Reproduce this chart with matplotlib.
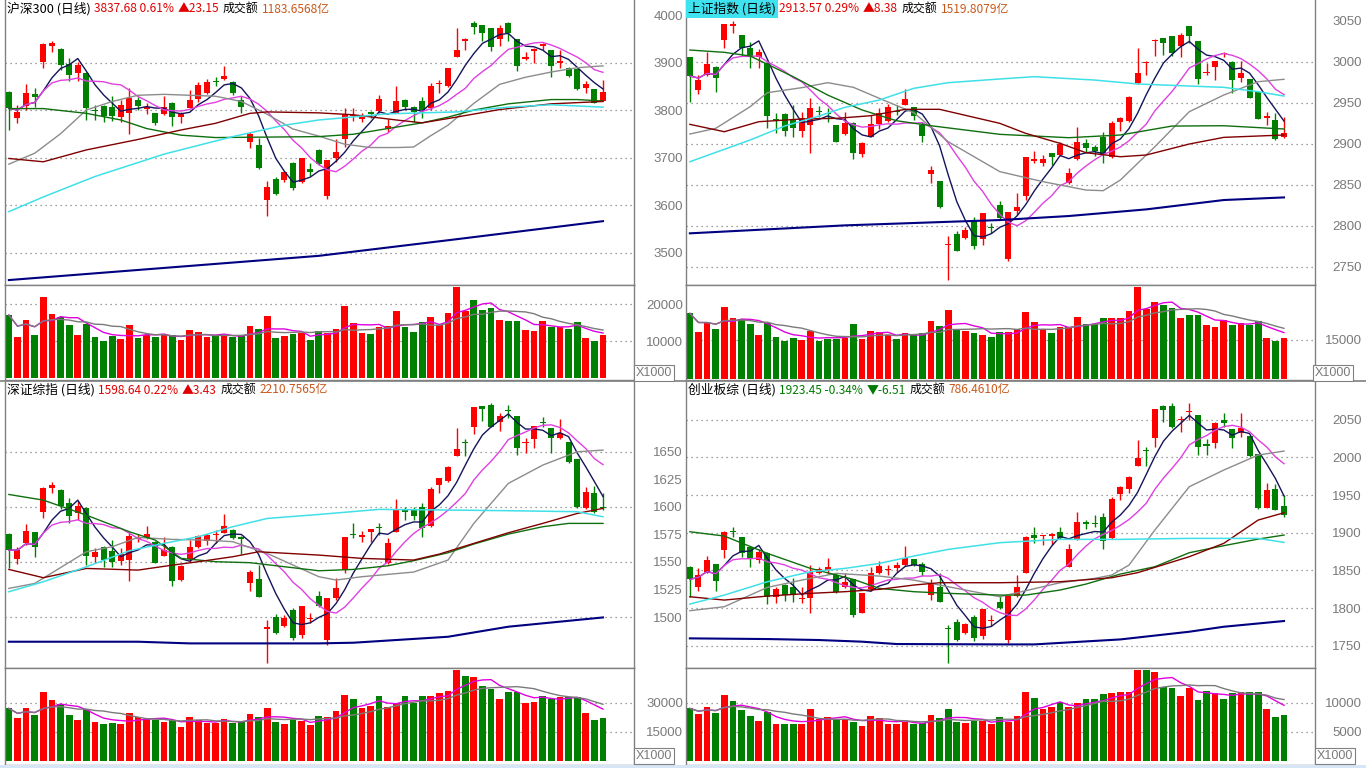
import numpy as np
import pandas as pd
import matplotlib
matplotlib.use("Agg")
import matplotlib.pyplot as plt
from matplotlib.lines import Line2D

plt.rcParams['font.family'] = ['Noto Sans CJK SC', 'DejaVu Sans']

# ---------------- data: 沪深300 ----------------
hs_open = [3838.6, 3782.5, 3808.5, 3833.0, 3901.8, 3934.8, 3928.5, 3896.2, 3878.6, 3877.2,
           3800.0, 3808.5, 3807.1, 3784.6, 3794.4, 3821.1, 3802.9, 3793.0, 3790.9, 3814.1,
           3786.0, 3805.0, 3822.5, 3836.6, 3861.1, 3864.6, 3859.7, 3821.1, 3732.0, 3726.3,
           3610.5, 3654.8, 3652.7, 3687.7, 3649.1, 3675.8, 3715.1, 3618.9, 3698.2, 3738.2,
           3787.4, 3780.4, 3794.4, 3797.2, 3759.3, 3794.4, 3821.1, 3807.1, 3819.0, 3803.5,
           3854.1, 3850.6, 3912.3, 3946.0, 3982.5, 3979.0, 3972.0, 3948.8, 3982.5, 3948.8,
           3906.7, 3924.9, 3935.5, 3926.3, 3898.3, 3889.2, 3886.4, 3845.7, 3844.3, 3819.7]
hs_high = [3840.5, 3810.6, 3854.8, 3845.7, 3940.4, 3946.0, 3930.0, 3908.8, 3901.8, 3880.8,
           3810.6, 3810.6, 3829.5, 3821.1, 3845.7, 3828.1, 3814.1, 3794.4, 3829.5, 3817.6,
           3796.5, 3842.2, 3859.7, 3865.3, 3868.8, 3892.6, 3860.5, 3829.5, 3754.4, 3740.4,
           3650.5, 3659.7, 3672.3, 3691.2, 3698.8, 3687.7, 3717.9, 3695.2, 3738.2, 3803.5,
           3803.5, 3794.4, 3797.2, 3831.6, 3780.4, 3850.6, 3823.9, 3808.5, 3828.1, 3857.6,
           3863.2, 3888.3, 3972.0, 3950.9, 3987.4, 3979.5, 3972.5, 3979.0, 3984.6, 3949.3,
           3922.9, 3929.8, 3941.8, 3926.8, 3926.3, 3889.7, 3887.8, 3861.1, 3844.8, 3863.2]
hs_low = [3758.0, 3773.3, 3800.0, 3807.1, 3889.2, 3922.9, 3884.4, 3861.1, 3861.1, 3779.0,
          3779.0, 3775.5, 3776.9, 3775.5, 3748.8, 3800.0, 3791.6, 3768.4, 3789.5, 3767.0,
          3772.0, 3803.5, 3817.6, 3833.7, 3849.9, 3863.2, 3831.6, 3794.4, 3720.7, 3676.5,
          3577.6, 3622.0, 3649.1, 3631.6, 3645.6, 3661.8, 3684.9, 3612.6, 3691.2, 3722.8,
          3777.6, 3775.5, 3782.5, 3793.0, 3754.4, 3793.0, 3800.0, 3775.5, 3782.5, 3800.0,
          3836.6, 3849.2, 3911.8, 3926.3, 3959.3, 3945.3, 3924.9, 3935.5, 3946.0, 3882.8,
          3905.3, 3899.7, 3926.3, 3870.2, 3889.2, 3870.2, 3842.2, 3835.1, 3814.0, 3819.2]
hs_close = [3803.5, 3796.5, 3835.1, 3828.1, 3938.3, 3940.4, 3894.8, 3873.7, 3894.8, 3805.0,
            3797.9, 3787.4, 3787.4, 3809.9, 3824.6, 3808.5, 3805.7, 3772.0, 3807.1, 3784.6,
            3790.9, 3821.1, 3852.7, 3859.7, 3859.0, 3871.6, 3836.6, 3805.7, 3748.8, 3677.2,
            3637.2, 3622.5, 3668.8, 3635.1, 3698.2, 3668.8, 3687.0, 3694.7, 3712.3, 3791.6,
            3789.5, 3786.0, 3792.3, 3822.5, 3766.3, 3819.0, 3805.7, 3795.1, 3800.0, 3850.6,
            3856.2, 3887.8, 3926.3, 3948.8, 3975.5, 3962.8, 3933.4, 3973.4, 3961.4, 3893.3,
            3910.9, 3926.3, 3938.3, 3892.6, 3903.9, 3871.6, 3843.6, 3854.1, 3814.5, 3837.7]
hs_vol = [17100, 11100, 15800, 11700, 21900, 17400, 16500, 14400, 11700, 14700,
          11100, 10100, 11400, 10600, 14400, 10900, 11700, 11100, 11700, 11600,
          10400, 13100, 12400, 11200, 11300, 11700, 11200, 11400, 14200, 13300,
          16800, 11000, 11400, 11900, 12200, 10400, 12800, 12200, 13400, 19500,
          15000, 12300, 12000, 14000, 14100, 18200, 14000, 12500, 15200, 16600,
          14400, 17700, 24800, 18300, 21200, 18500, 19000, 15800, 15500, 15500,
          13100, 12800, 15500, 14000, 14000, 13300, 15200, 10900, 10100, 11700]
hs_ma20 = {0: 3686, 3: 3709, 6: 3750, 9: 3800, 12: 3818, 15: 3831, 18: 3833, 21: 3831, 24: 3829,
           27: 3818, 30: 3791, 33: 3760, 36: 3745, 39: 3728, 42: 3721, 45: 3721, 47: 3722,
           49: 3746, 51: 3768, 54: 3814, 57: 3854, 60: 3869, 63: 3880, 66: 3889, 69: 3893}
hs_ma30 = {0: 3803, 4: 3803, 9: 3793, 13: 3779, 16: 3761, 20: 3747, 24: 3742, 36: 3744,
           40: 3749, 44: 3761, 48: 3773, 51: 3785, 54: 3800, 58: 3813, 63: 3822, 66: 3822, 69: 3819}
hs_ma60 = {0: 3698, 4: 3691, 9: 3716, 15: 3738, 20: 3758, 24: 3772, 28: 3793, 30: 3796,
           36: 3794, 40: 3790, 45: 3779, 48: 3773, 51: 3782, 57: 3801, 63: 3813, 69: 3818}
hs_ma120 = {0: 3586, 4: 3617, 10: 3660, 18: 3707, 26: 3744, 32: 3768, 36: 3779, 44: 3792,
            52: 3796, 58: 3806, 63: 3811, 69: 3806}
hs_ma250 = {0: 3442, 36: 3493, 52: 3528, 69: 3566}

# ---------------- data: 上证指数 ----------------
sh_open = [3005.3, 2965.4, 2983.7, 2993.9, 3026.4, 3043.9, 3032.5, 3016.3, 3005.3, 2998.0,
           2929.7, 2936.2, 2928.9, 2915.9, 2922.8, 2939.8, 2937.0, 2922.8, 2911.4, 2925.6,
           2887.4, 2908.5, 2924.0, 2928.1, 2939.8, 2947.2, 2944.3, 2922.8, 2862.6, 2854.5,
           2776.4, 2789.8, 2785.4, 2806.9, 2783.3, 2797.6, 2825.2, 2758.9, 2818.3, 2836.2,
           2879.3, 2876.8, 2888.2, 2886.2, 2851.6, 2880.9, 2901.2, 2896.3, 2907.7, 2884.1,
           2926.8, 2928.1, 2974.4, 2998.0, 3024.8, 3028.4, 3031.3, 3019.1, 3043.5, 3025.2,
           2986.2, 2993.9, 3009.3, 3000.0, 2980.5, 2978.5, 2963.4, 2931.7, 2928.9, 2907.7]
sh_high = [3005.8, 2983.7, 3012.2, 2994.4, 3046.4, 3049.6, 3033.0, 3024.4, 3015.0, 3000.0,
           2937.0, 2937.0, 2947.2, 2939.0, 2956.1, 2945.9, 2943.1, 2923.3, 2939.0, 2926.8,
           2901.7, 2935.0, 2943.1, 2948.0, 2947.2, 2966.3, 2945.1, 2926.8, 2872.8, 2855.0,
           2787.4, 2793.9, 2798.8, 2811.0, 2815.9, 2802.9, 2830.1, 2816.8, 2840.2, 2883.8,
           2891.5, 2886.2, 2889.0, 2902.4, 2869.9, 2919.9, 2905.3, 2898.4, 2914.6, 2928.1,
           2932.1, 2957.8, 3016.3, 3000.8, 3027.2, 3028.9, 3031.8, 3035.4, 3044.0, 3025.7,
           2998.0, 3001.2, 3012.2, 3001.2, 3000.8, 2979.0, 2963.9, 2939.0, 2937.0, 2932.9]
sh_low = [2951.2, 2960.2, 2982.5, 2963.4, 3017.1, 3035.4, 3006.9, 2991.9, 2992.7, 2919.5,
          2913.4, 2909.3, 2908.5, 2907.7, 2888.2, 2932.9, 2926.0, 2902.0, 2910.6, 2880.9,
          2884.1, 2907.7, 2917.5, 2926.4, 2935.0, 2946.7, 2928.9, 2902.4, 2852.4, 2822.0,
          2733.7, 2769.0, 2783.3, 2771.1, 2776.4, 2790.7, 2808.5, 2757.3, 2813.0, 2831.3,
          2876.0, 2873.2, 2874.0, 2885.0, 2850.8, 2880.1, 2890.2, 2885.0, 2876.0, 2882.1,
          2915.9, 2926.8, 2972.8, 2983.7, 3006.9, 3008.1, 3006.9, 3006.1, 3023.2, 2972.8,
          2983.7, 2977.6, 3006.1, 2962.2, 2975.6, 2955.6, 2929.6, 2922.8, 2904.7, 2907.2]
sh_close = [2982.5, 2977.6, 2997.2, 2979.7, 3045.9, 3044.7, 3017.1, 3006.9, 3012.2, 2933.7,
            2928.9, 2915.9, 2918.7, 2930.9, 2943.9, 2939.0, 2936.2, 2902.4, 2925.6, 2888.2,
            2901.2, 2924.0, 2937.8, 2944.3, 2938.6, 2954.1, 2933.7, 2909.3, 2867.9, 2822.4,
            2777.2, 2769.5, 2794.7, 2775.2, 2815.0, 2796.7, 2808.9, 2816.3, 2823.2, 2883.3,
            2880.1, 2880.9, 2884.1, 2899.6, 2863.8, 2902.4, 2894.3, 2891.5, 2887.4, 2924.8,
            2930.9, 2957.3, 2985.8, 3000.0, 3025.6, 3023.2, 3010.2, 3032.5, 3031.7, 2978.9,
            2987.0, 3000.4, 3010.2, 2977.6, 2985.8, 2956.1, 2930.1, 2932.9, 2905.2, 2913.6]
sh_vol = [25170, 18180, 21610, 19190, 27710, 23510, 22880, 21100, 16900, 21610,
          16010, 14740, 15760, 15000, 18560, 14620, 15510, 15510, 15760, 21100,
          15380, 18430, 17920, 16900, 15380, 17540, 16900, 17540, 22370, 20460,
          26440, 18810, 18430, 17790, 16900, 16010, 18050, 18180, 19190, 25670,
          21860, 19070, 17790, 20080, 20080, 23770, 21100, 20970, 23390, 23390,
          23390, 26060, 35330, 26690, 29490, 28470, 27330, 23390, 24530, 24530,
          20720, 19950, 22500, 20720, 21480, 20840, 22120, 15760, 14620, 15760]
sh_ma20 = {0: 2911.8, 3: 2918.7, 7: 2945.1, 9: 2962.2, 13: 2968.3, 16: 2974.4, 19: 2968.7,
           22: 2955.3, 26: 2937.8, 30: 2902.4, 36: 2865.9, 41: 2853.7, 46: 2843.5, 48: 2842.7,
           50: 2855.7, 54: 2896.3, 58: 2939.0, 62: 2959.3, 66: 2975.6, 69: 2978.5}
sh_ma30 = {0: 3014.2, 4: 3011.4, 7: 3006.9, 12: 2981.7, 16: 2959.3, 20: 2941.1, 24: 2928.0,
           28: 2921.9, 36: 2911.4, 44: 2907.3, 50: 2910.6, 56: 2921.5, 62: 2921.9, 69: 2917.9}
sh_ma60 = {0: 2923.6, 4: 2914.6, 8: 2926.8, 13: 2930.1, 17: 2930.9, 21: 2934.1, 25: 2941.9,
           29: 2941.9, 36: 2924.8, 39: 2912.6, 43: 2900.4, 46: 2889.0, 50: 2884.1, 53: 2886.2,
           58: 2899.6, 62: 2907.7, 69: 2910.6}
sh_ma120 = {0: 2878.0, 7: 2904.5, 11: 2921.5, 15: 2933.7, 18: 2944.3, 22: 2953.2, 26: 2967.5,
            30: 2974.4, 36: 2978.9, 40: 2981.7, 47: 2977.6, 52: 2972.8, 58: 2970.3, 62: 2968.7,
            66: 2963.4, 69: 2958.1}
sh_ma250 = {0: 2790.7, 18: 2800.4, 36: 2806.9, 44: 2811.8, 53: 2819.9, 62: 2831.3, 69: 2834.5}

# ---------------- data: 深证综指 ----------------
sz_open = [1575.2, 1552.6, 1566.8, 1576.7, 1595.5, 1616.6, 1615.1, 1603.6, 1593.9, 1599.1,
           1554.7, 1563.8, 1559.8, 1550.8, 1551.7, 1570.4, 1571.3, 1568.3, 1555.6, 1563.8,
           1533.6, 1552.3, 1563.8, 1569.2, 1574.3, 1576.4, 1578.9, 1572.8, 1530.5, 1534.2,
           1489.5, 1499.7, 1492.2, 1506.4, 1483.7, 1497.9, 1519.1, 1479.2, 1517.0, 1542.6,
           1575.2, 1572.8, 1577.3, 1581.9, 1548.6, 1577.3, 1597.0, 1597.0, 1599.4, 1582.8,
           1619.6, 1623.5, 1646.2, 1658.5, 1672.4, 1691.1, 1692.1, 1677.0, 1687.5, 1682.1,
           1657.3, 1661.0, 1676.7, 1670.9, 1661.9, 1658.8, 1643.1, 1598.5, 1612.0, 1600.0]
sz_high = [1576.0, 1563.8, 1584.0, 1577.5, 1618.0, 1622.0, 1616.0, 1607.5, 1605.4, 1600.0,
           1562.2, 1564.5, 1569.8, 1562.2, 1575.8, 1574.9, 1582.5, 1569.0, 1572.8, 1564.5,
           1547.0, 1569.8, 1574.3, 1575.2, 1578.9, 1593.3, 1579.5, 1573.5, 1542.6, 1547.1,
           1497.3, 1502.8, 1501.9, 1507.9, 1510.5, 1504.0, 1523.6, 1517.5, 1535.1, 1572.8,
           1585.5, 1578.2, 1579.8, 1585.5, 1571.3, 1606.6, 1600.0, 1600.0, 1603.6, 1618.1,
           1626.0, 1636.5, 1670.9, 1661.0, 1690.8, 1691.5, 1693.6, 1684.5, 1692.1, 1682.5,
           1661.9, 1673.3, 1680.9, 1671.2, 1679.1, 1659.0, 1643.5, 1617.5, 1618.7, 1612.0]
sz_low = [1544.1, 1548.0, 1565.3, 1554.7, 1589.4, 1612.0, 1597.6, 1585.5, 1587.9, 1547.1,
          1548.6, 1545.6, 1545.0, 1547.1, 1533.0, 1568.3, 1570.4, 1549.0, 1555.3, 1528.4,
          1533.0, 1550.2, 1562.9, 1565.3, 1567.4, 1575.8, 1570.4, 1557.1, 1523.9, 1518.0,
          1458.7, 1485.0, 1491.3, 1479.2, 1480.7, 1494.3, 1509.4, 1474.7, 1515.4, 1540.2,
          1571.3, 1568.3, 1568.3, 1574.3, 1547.7, 1576.7, 1587.9, 1587.9, 1572.2, 1581.9,
          1612.7, 1622.6, 1646.0, 1645.9, 1665.5, 1677.9, 1672.0, 1668.8, 1680.0, 1646.8,
          1648.3, 1652.8, 1672.4, 1648.9, 1661.0, 1640.0, 1599.0, 1598.0, 1594.5, 1597.0]
sz_close = [1560.7, 1560.7, 1578.2, 1563.8, 1617.2, 1619.6, 1600.6, 1591.5, 1600.9, 1555.6,
            1559.2, 1551.7, 1550.2, 1557.1, 1573.7, 1571.3, 1574.9, 1549.3, 1560.7, 1533.0,
            1546.5, 1563.8, 1573.4, 1574.3, 1575.2, 1582.5, 1571.3, 1571.0, 1541.1, 1518.5,
            1490.7, 1485.3, 1499.4, 1480.7, 1510.0, 1498.8, 1510.0, 1517.0, 1526.0, 1572.2,
            1574.3, 1574.0, 1579.4, 1580.7, 1566.8, 1597.0, 1594.8, 1591.8, 1580.4, 1616.0,
            1625.6, 1636.2, 1652.2, 1657.9, 1690.5, 1688.4, 1672.4, 1682.1, 1686.6, 1652.8,
            1657.9, 1673.0, 1676.1, 1661.9, 1666.4, 1640.1, 1599.4, 1612.9, 1595.2, 1598.6]
sz_vol = [27070, 21900, 27070, 23620, 35340, 31380, 29140, 23620, 21030, 26550,
          20000, 18960, 19310, 18960, 24830, 22760, 21380, 21030, 20000, 21030,
          17240, 22410, 21030, 19650, 19650, 21380, 19650, 20000, 24140, 22410,
          27070, 20000, 18960, 21030, 20690, 18450, 23100, 22760, 25860, 33960,
          31720, 27410, 28450, 33450, 27930, 30000, 33450, 30000, 33450, 33450,
          34820, 36030, 46890, 43790, 43450, 38620, 36890, 31900, 35340, 35340,
          29650, 30510, 33450, 31900, 33100, 32760, 32760, 24830, 21030, 21900]
sz_ma20 = {0: 1526.0, 3: 1530.5, 9: 1559.2, 12: 1563.8, 15: 1572.2, 19: 1570.4, 23: 1569.8,
           26: 1568.3, 30: 1557.7, 36: 1536.6, 38: 1533.6, 41: 1536.6, 47: 1540.8, 51: 1551.7,
           54: 1584.9, 58: 1621.1, 62: 1637.7, 66: 1649.8, 69: 1651.3}
sz_ma30 = {0: 1611.1, 4: 1606.0, 9: 1592.4, 14: 1577.3, 17: 1569.8, 20: 1553.2, 24: 1550.2,
           28: 1549.3, 36: 1542.0, 40: 1543.2, 44: 1546.5, 47: 1551.1, 51: 1558.3, 54: 1566.2,
           58: 1575.2, 62: 1581.9, 65: 1584.9, 69: 1584.9}
sz_ma60 = {0: 1543.2, 4: 1535.7, 9: 1544.1, 15: 1542.6, 19: 1547.1, 22: 1550.2, 26: 1554.7,
           29: 1559.2, 36: 1556.2, 41: 1553.2, 47: 1551.7, 50: 1557.1, 54: 1566.8, 58: 1576.4,
           62: 1584.9, 66: 1593.9, 69: 1598.5}
sz_ma120 = {0: 1523.0, 4: 1532.0, 9: 1545.6, 14: 1560.1, 18: 1566.8, 22: 1572.8, 26: 1581.9,
            30: 1589.4, 36: 1593.0, 43: 1597.6, 51: 1597.0, 58: 1596.4, 66: 1595.5, 69: 1590.9}
sz_ma250 = {0: 1477.7, 15: 1477.7, 21: 1476.2, 36: 1476.2, 40: 1476.8, 51: 1482.2, 58: 1491.3,
            69: 1499.7}

# ---------------- data: 创业板综 ----------------
cy_open = [1854.9, 1828.4, 1848.3, 1858.5, 1877.0, 1902.2, 1893.8, 1880.6, 1863.8, 1873.5,
           1815.1, 1830.6, 1827.5, 1811.6, 1812.9, 1847.0, 1850.5, 1843.9, 1827.5, 1838.1,
           1793.9, 1824.9, 1846.1, 1850.5, 1852.7, 1857.1, 1864.6, 1858.0, 1817.3, 1828.4,
           1773.1, 1781.1, 1766.5, 1787.7, 1763.0, 1783.3, 1808.5, 1757.7, 1816.0, 1847.0,
           1896.9, 1895.6, 1895.6, 1900.5, 1854.9, 1891.2, 1913.7, 1912.4, 1920.4, 1892.5,
           1951.3, 1957.5, 1988.4, 2008.8, 2025.1, 2068.0, 2068.0, 2049.4, 2059.6, 2056.1,
           2017.2, 2018.5, 2049.4, 2037.1, 2031.8, 2028.2, 2004.4, 1933.2, 1957.5, 1935.4]
cy_high = [1855.5, 1852.7, 1869.1, 1859.0, 1901.8, 1908.0, 1894.3, 1882.3, 1877.9, 1874.0,
           1828.4, 1831.9, 1839.4, 1827.5, 1857.1, 1854.0, 1866.0, 1847.0, 1846.1, 1838.6,
           1820.0, 1854.0, 1862.4, 1857.1, 1861.6, 1882.3, 1865.0, 1861.6, 1838.1, 1847.0,
           1777.6, 1785.1, 1780.6, 1790.8, 1798.8, 1790.8, 1816.0, 1816.5, 1843.9, 1895.2,
           1908.0, 1897.5, 1899.1, 1908.0, 1885.0, 1927.0, 1916.8, 1923.4, 1925.7, 1946.9,
           1961.9, 1974.8, 2022.9, 2014.1, 2064.0, 2069.3, 2071.6, 2054.8, 2071.6, 2056.5,
           2023.8, 2046.3, 2059.2, 2037.5, 2058.3, 2028.6, 2004.8, 1965.4, 1964.1, 1950.0]
cy_low = [1815.1, 1823.1, 1846.1, 1823.1, 1866.0, 1894.7, 1868.2, 1854.0, 1859.3, 1805.4,
          1806.3, 1809.8, 1808.5, 1806.3, 1793.9, 1845.2, 1845.2, 1819.6, 1826.2, 1788.6,
          1793.5, 1823.1, 1845.2, 1843.9, 1848.3, 1856.3, 1856.3, 1842.5, 1810.7, 1808.0,
          1727.6, 1757.0, 1765.2, 1756.8, 1758.5, 1776.2, 1798.3, 1753.2, 1815.1, 1846.5,
          1886.8, 1883.7, 1883.7, 1891.2, 1854.0, 1890.3, 1904.4, 1908.0, 1877.9, 1891.2,
          1943.3, 1952.2, 1988.0, 1988.4, 2014.1, 2047.2, 2038.4, 2033.1, 2049.4, 2003.0,
          2003.0, 2011.9, 2040.6, 2012.8, 2026.5, 2000.8, 1932.0, 1932.5, 1929.5, 1921.2]
cy_close = [1838.1, 1843.9, 1863.8, 1836.4, 1901.3, 1901.3, 1873.5, 1865.1, 1874.8, 1815.1,
            1824.9, 1817.3, 1818.7, 1812.9, 1848.3, 1851.4, 1854.0, 1820.9, 1835.0, 1790.8,
            1819.6, 1846.1, 1855.8, 1851.4, 1857.1, 1866.0, 1857.1, 1848.3, 1832.8, 1808.5,
            1771.8, 1757.7, 1778.4, 1759.9, 1798.3, 1784.2, 1799.7, 1816.0, 1827.5, 1894.7,
            1892.5, 1896.9, 1898.2, 1893.4, 1878.4, 1913.7, 1911.1, 1911.5, 1889.4, 1944.7,
            1961.0, 1974.3, 1998.6, 2007.9, 2063.6, 2062.7, 2040.6, 2050.8, 2060.5, 2014.1,
            2015.4, 2045.9, 2045.9, 2025.1, 2039.3, 2001.7, 1932.3, 1956.6, 1930.0, 1923.5]
cy_vol = [9020, 8050, 9200, 8280, 11320, 10290, 8740, 7700, 6840, 8450,
          6320, 6320, 6320, 6260, 8850, 7130, 7590, 7130, 7180, 6720,
          5980, 7700, 7300, 6320, 6320, 6670, 6320, 6550, 7870, 7300,
          8850, 6720, 6440, 6840, 6840, 6320, 7590, 6720, 7700, 11840,
          10750, 8850, 9200, 10060, 9200, 10000, 10570, 10570, 11440, 11610,
          11780, 11780, 15630, 15630, 15230, 12760, 12470, 11150, 12470, 10460,
          12010, 11610, 10570, 11610, 11840, 11780, 11780, 8850, 7470, 7870]
cy_ma20 = {0: 1796.6, 4: 1801.9, 9: 1827.5, 13: 1837.2, 17: 1846.1, 19: 1844.7, 22: 1842.5,
           26: 1837.2, 30: 1828.4, 36: 1815.1, 39: 1823.1, 43: 1833.7, 47: 1839.4, 49: 1843.9,
           51: 1857.1, 54: 1903.5, 58: 1961.0, 62: 1983.1, 66: 2003.0, 69: 2008.3}
cy_ma30 = {0: 1901.3, 4: 1895.6, 9: 1872.6, 14: 1852.7, 19: 1838.1, 22: 1826.2, 26: 1821.8,
           30: 1819.6, 36: 1817.3, 39: 1817.3, 43: 1824.0, 46: 1831.9, 50: 1845.2, 54: 1854.9,
           58: 1873.5, 62: 1882.8, 66: 1891.6, 69: 1896.9}
cy_ma60 = {0: 1815.1, 4: 1810.7, 9: 1816.0, 14: 1819.6, 18: 1821.8, 22: 1824.9, 26: 1830.6,
           29: 1833.7, 36: 1833.7, 43: 1835.0, 49: 1840.3, 52: 1847.0, 58: 1868.2, 62: 1885.9,
           66: 1916.8, 69: 1926.5}
cy_ma120 = {0: 1805.4, 4: 1817.3, 9: 1835.0, 14: 1848.3, 18: 1852.7, 22: 1859.3, 26: 1869.1,
            30: 1877.9, 36: 1886.8, 43: 1891.2, 50: 1891.2, 58: 1892.5, 66: 1892.5, 69: 1887.2}
cy_ma250 = {0: 1759.9, 9: 1759.0, 15: 1757.7, 20: 1755.5, 24: 1752.4, 36: 1751.9, 40: 1751.9,
            50: 1758.5, 58: 1768.7, 62: 1775.3, 69: 1782.9}

# header texts
hs_title = [("沪深300 (日线)", "black"), ("3837.68 0.61%", "#e00000"), ("▲23.15", "#e00000"),
            ("成交额", "black"), ("1183.6568亿", "#c8581a")]
sh_title = [("上证指数 (日线)", "black"), ("2913.57 0.29%", "#e00000"), ("▲8.38", "#e00000"),
            ("成交额", "black"), ("1519.8079亿", "#c8581a")]
sz_title = [("深证综指 (日线)", "black"), ("1598.64 0.22%", "#e00000"), ("▲3.43", "#e00000"),
            ("成交额", "black"), ("2210.7565亿", "#c8581a")]
cy_title = [("创业板综 (日线)", "black"), ("1923.45 -0.34%", "#007a00"), ("▼-6.51", "#007a00"),
            ("成交额", "black"), ("786.4610亿", "#c8581a")]

# ---------------- drawing ----------------
W, H = 1366, 768
RED = "#ff0000"
GREEN = "#008000"
GRAY = "#808080"
fig = plt.figure(figsize=(W / 100, H / 100), dpi=100)
fig.patch.set_facecolor("white")


def rect(x0, y0, x1, y1):
    return [x0 / W, 1 - y1 / H, (x1 - x0) / W, (y1 - y0) / H]


def style_axis(ax, ticks, grid, pad):
    for s in ax.spines.values():
        s.set_color(GRAY)
        s.set_linewidth(1)
    ax.spines["top"].set_visible(False)
    ax.set_xticks([])
    ax.yaxis.tick_right()
    ax.set_yticks(ticks)
    ax.set_yticklabels([str(t) for t in ticks], ha="right", fontsize=9.5,
                       color="#7a7a7a", family="Liberation Sans")
    ax.tick_params(axis="y", length=0, pad=pad)
    for g in grid:
        ax.axhline(g, color=GRAY, lw=0.9, ls=(0, (1, 3)), zorder=0)


def draw_panel(x0, x1, y0, ysplit, y1, o, h, l, c, vol, ma20, ma30, ma60, ma120, ma250,
               ylim, vylim, ticks, grid, vticks, pad):
    ax = fig.add_axes(rect(x0, y0, x1, ysplit))
    axv = fig.add_axes(rect(x0, ysplit, x1, y1))
    o, h, l, c, vol = map(np.asarray, (o, h, l, c, vol))
    x = np.arange(len(c))
    col = np.where(c >= o, RED, GREEN)
    px = (ylim[1] - ylim[0]) / (ysplit - y0)

    ax.vlines(x, l, h, colors=col, lw=1, zorder=2)
    ax.bar(x, np.maximum(np.abs(c - o), px * 1.2), bottom=np.minimum(o, c),
           width=0.7, color=col, lw=0, zorder=3)

    cs = pd.Series(c)
    ax.plot(x, cs.rolling(5, min_periods=1).mean(), color="#14145a", lw=1, zorder=4)
    ax.plot(x, cs.rolling(10, min_periods=1).mean(), color="#e040e0", lw=1, zorder=4)
    for d, color, lw in [(ma20, "#8c8c8c", 1), (ma30, "#0f6f0f", 1), (ma60, "#800000", 1),
                         (ma120, "#40e0e8", 1.1), (ma250, "#000080", 1.5)]:
        ax.plot(list(d.keys()), list(d.values()), color=color, lw=lw, zorder=4)

    ax.set_xlim(-0.45, 72.6)
    ax.set_ylim(*ylim)
    style_axis(ax, ticks, grid, pad)

    axv.bar(x, vol, width=0.78, color=col, lw=0, zorder=2)
    vs = pd.Series(vol)
    axv.plot(x, vs.rolling(5, min_periods=1).mean(), color="#e000e0", lw=1, zorder=3)
    axv.plot(x, vs.rolling(10, min_periods=1).mean(), color="#7a7a7a", lw=1, zorder=3)
    axv.set_xlim(-0.45, 72.6)
    axv.set_ylim(*vylim)
    style_axis(axv, vticks, vticks, pad)
    axv.spines["top"].set_visible(True)
    return ax


renderer = fig.canvas.get_renderer()


def header(x, y, parts, bg=None):
    # name part slightly larger, the figures a bit narrower as in the screenshot
    for k, (s, color) in enumerate(parts):
        size = 9.2 if k == 0 else 8.6
        t = fig.text(x / W, 1 - y / H, s, color=color, fontsize=size, va="center", ha="left")
        if k == 0 and bg:
            t.set_bbox(dict(facecolor=bg, edgecolor="none", pad=1.6))
        x += t.get_window_extent(renderer=renderer).width + 3.5


LX, RX = (5, 634), (686, 1315)
PAD_L, PAD_R = 35.3, 33.8

draw_panel(LX[0], LX[1], 0, 285, 380, hs_open, hs_high, hs_low, hs_close, hs_vol,
           hs_ma20, hs_ma30, hs_ma60, hs_ma120, hs_ma250,
           (3431.6, 4031.6), (-460, 25220), [3500, 3600, 3700, 3800, 3900, 4000],
           [3500, 3600, 3700, 3800, 3900], [10000, 20000], PAD_L)
draw_panel(RX[0], RX[1], 0, 285, 380, sh_open, sh_high, sh_low, sh_close, sh_vol,
           sh_ma20, sh_ma30, sh_ma60, sh_ma120, sh_ma250,
           (2727.7, 3075.2), (-270, 35990), [2750, 2800, 2850, 2900, 2950, 3000, 3050],
           [2750, 2800, 2850, 2900, 2950, 3000], [15000], PAD_R)
draw_panel(LX[0], LX[1], 382, 668, 765, sz_open, sz_high, sz_low, sz_close, sz_vol,
           sz_ma20, sz_ma30, sz_ma60, sz_ma120, sz_ma250,
           (1453.9, 1713.0), (-2220, 47940), [1500, 1525, 1550, 1575, 1600, 1625, 1650],
           [1500, 1550, 1600, 1650], [15000, 30000], PAD_L)
draw_panel(RX[0], RX[1], 382, 668, 765, cy_open, cy_high, cy_low, cy_close, cy_vol,
           cy_ma20, cy_ma30, cy_ma60, cy_ma120, cy_ma250,
           (1720.6, 2099.9), (-740, 15980), [1750, 1800, 1850, 1900, 1950, 2000, 2050],
           [1750, 1800, 1850, 1900, 1950, 2000, 2050], [5000, 10000], PAD_R)

# separator line between upper and lower halves, bottom status strip
fig.add_artist(Line2D([0, 1], [1 - 381 / H, 1 - 381 / H], color=GRAY, lw=1.2))
fig.add_artist(plt.Rectangle((0, 0), 1, 3 / H, color="#d6e6f6", lw=0))

for bx, by in [(654, 373), (1333, 373), (654, 756), (1335, 756)]:
    fig.text(bx / W, 1 - by / H, "X1000", fontsize=9, color="#7a7a7a", family="Liberation Sans",
             ha="center", va="center",
             bbox=dict(facecolor="white", edgecolor=GRAY, pad=1.2, lw=0.8))

header(7, 9, hs_title)
header(688, 9, sh_title, bg="#3fe3f0")
header(7, 390, sz_title)
header(688, 390, cy_title)

fig.savefig("out.png", dpi=100)
